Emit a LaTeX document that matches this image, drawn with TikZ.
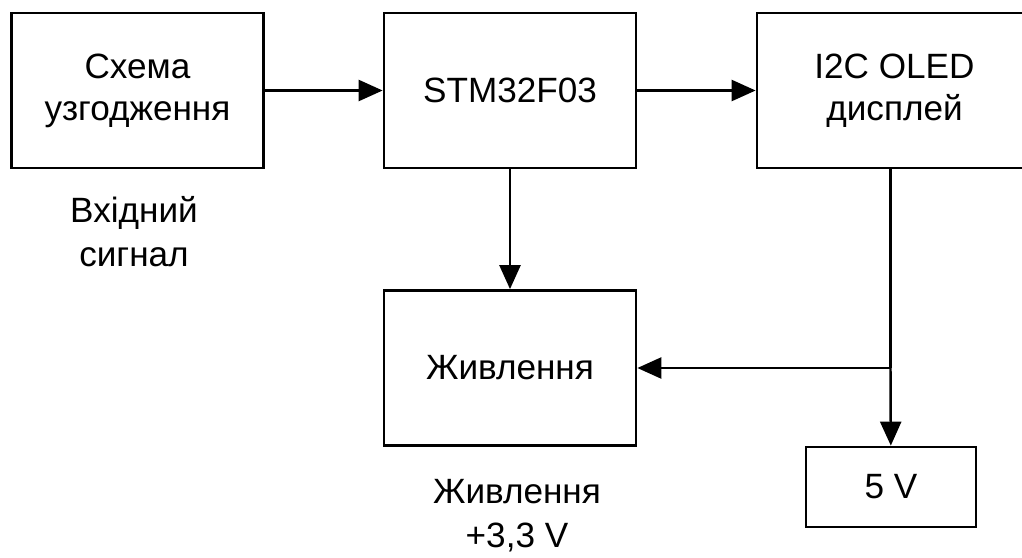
\documentclass[tikz,border=0pt]{standalone}
\usepackage{fontspec}
\setmainfont{Liberation Sans}
\usetikzlibrary{arrows.meta}
\begin{document}
\begin{tikzpicture}
  [x=0.02cm,y=-0.02cm,font=\fontsize{20}{24}\selectfont,
   block/.style={draw=black,line width=1.6pt,minimum width=5.04cm,minimum height=3.1cm,align=center,inner sep=0pt},
   note/.style={align=center,font=\fontsize{20}{25}\selectfont},
   arr/.style={-{Triangle[length=0.48cm,width=0.42cm]},line width=1.4pt}]
  \useasboundingbox (0,0) rectangle (1022,558);

  \node[block] (match) at (137.5,90.5) {Схема\\узгодження};
  \node[block] (mcu) at (510,90.5) {STM32F03};
  \node[block,minimum width=5.5cm] (oled) at (894.5,90.5) {I2C OLED\\дисплей};
  \node[block] (power) at (510,368) {Живлення};
  \node[block,minimum width=3.4cm,minimum height=1.6cm] (fivev) at (891,487) {5 V};

  \node[note] (insig) at (134,232) {Вхідний\\сигнал};
  \node[note] (supply) at (517,516) {Живлення\\+3,3 V};

  \coordinate (j) at (890.5,368);

  \foreach \from/\to in {match/mcu, mcu/oled}
    \draw[arr] (\from) -- (\to);
  \draw[arr] (mcu) -- (power);
  \draw[line width=1.4pt] (j |- oled.south) -- (j);
  \draw[arr] (j) -- (power);
  \draw[arr] (j) -- (fivev);

\end{tikzpicture}
\end{document}
